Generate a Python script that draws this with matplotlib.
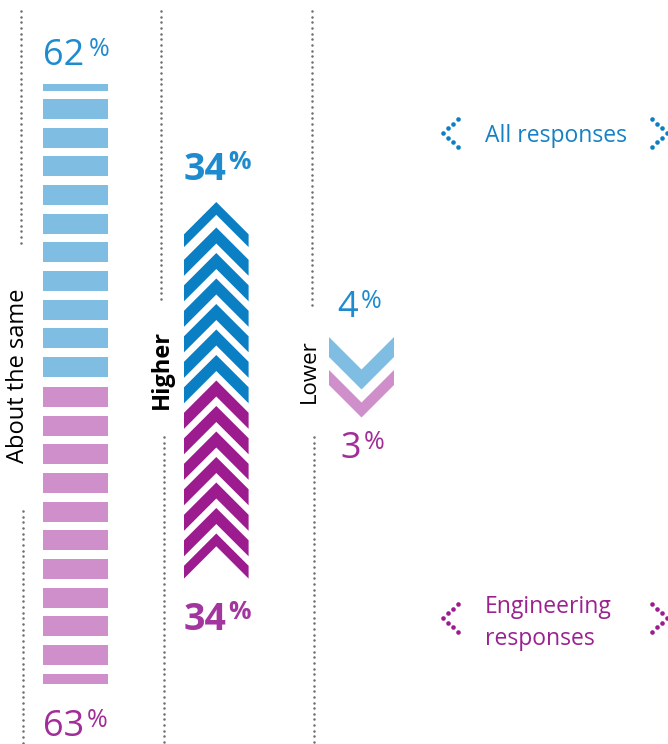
import matplotlib
matplotlib.use("Agg")
import math
import numpy as np
import matplotlib.pyplot as plt
from matplotlib.patches import Polygon

plt.rcParams['font.family'] = ['Open Sans', 'DejaVu Sans']

# Survey shares (%) for the two respondent groups
groups = ["All responses", "Engineering\nresponses"]
about_same = [62, 63]
higher = [34, 34]
lower = [4, 3]
categories = ["About the same", "Higher", "Lower"]

# Colours per group: strong, light, text
strong = ["#0b7fc4", "#9c1c8f"]
light = ["#80bde2", "#cf8fca"]
text_col = ["#1f8bcf", "#a22c98"]
dot_grey = "#6e6e6e"

W, H = 668, 744
fig = plt.figure(figsize=(W / 100, H / 100), dpi=100)
ax = fig.add_axes([0, 0, 1, 1])
ax.set_xlim(0, W)
ax.set_ylim(H, 0)
ax.axis('off')


def to_data(px, py):
    return ax.transData.inverted().transform((px, py))


def pct_label(x, y_base, value, color, size, pct_size, gap, weight='normal'):
    t = ax.text(x, y_base, f"{value}", color=color, fontsize=size,
                fontweight=weight, ha='left', va='baseline')
    fig.canvas.draw()
    bb = t.get_window_extent()
    right, top = to_data(bb.x1, bb.y1)
    ax.text(right + gap, top - 1, "%", color=color, fontsize=pct_size,
            fontweight=weight, ha='left', va='top')


# ---- "About the same": stacked bar segments, 6 % per segment ----
unit = 6.0
slot = 28.65
seg_h = 20.0
bar_x, bar_w = 75.0, 65.0
mid_top, mid_bot = 377.0, 387.0
for g, val in enumerate(about_same):
    n = math.ceil(val / unit)
    for k in range(n):
        frac = min(1.0, (val - k * unit) / unit)
        h = frac * seg_h
        if g == 0:
            bottom_edge = mid_top - k * slot
            ax.bar(bar_x, h, width=bar_w, bottom=bottom_edge - h,
                   color=light[g], linewidth=0)
        else:
            top_edge = mid_bot + k * slot
            ax.bar(bar_x, h, width=bar_w, bottom=top_edge,
                   color=light[g], linewidth=0)

pct_label(43, 65, about_same[0], text_col[0], 26, 18, 4)
pct_label(43, 736, about_same[1], text_col[1], 26, 18, 3)

# ---- "Higher": upward chevrons, 5 % per chevron ----
# blue stack grows up from the middle, purple grows down; the outermost
# chevron of each stack is thinned to the remaining fraction
chev_unit = 5.0
cx, hw = 216.3, 32.3
mid_apex, period, thick = 380.5, 25.5, 16.0


def up_chevron(ya, t, color):
    pts = [(cx - hw, ya + hw), (cx, ya), (cx + hw, ya + hw),
           (cx + hw, ya + hw + t), (cx, ya + t), (cx - hw, ya + hw + t)]
    ax.add_patch(Polygon(pts, closed=True, facecolor=color, edgecolor='none'))


for g, val in enumerate(higher):
    n = math.ceil(val / chev_unit)
    for j in range(n):
        frac = min(1.0, (val - j * chev_unit) / chev_unit)
        if g == 0:
            ya = mid_apex - (j + 1) * period
        else:
            ya = mid_apex + j * period
        up_chevron(ya, frac * thick, strong[g])

pct_label(184, 180, higher[0], text_col[0], 27, 18, 1, weight='bold')
pct_label(184, 630, higher[1], "#a3359f", 27, 18, 1, weight='bold')

# ---- "Lower": downward chevrons, thickness scaled by value ----
lcx, lhw = 361.5, 32.5
y0 = 337.0
px_per_pct = 5.0
for g, val in enumerate(lower):
    t = val * px_per_pct
    pts = [(lcx - lhw, y0), (lcx, y0 + lhw), (lcx + lhw, y0),
           (lcx + lhw, y0 + t), (lcx, y0 + lhw + t), (lcx - lhw, y0 + t)]
    ax.add_patch(Polygon(pts, closed=True, facecolor=light[g],
                         edgecolor='none'))
    y0 += t + 13.0

pct_label(337, 317, lower[0], text_col[0], 26, 18, 3)
pct_label(340, 458, lower[1], text_col[1], 26, 18, 3)

# ---- dotted separators ----
def dotted_v(x, y_start, y_end, step=5.65):
    ys = np.arange(y_start, y_end, step)
    ax.plot(np.full_like(ys, x), ys, linestyle='none', marker='o',
            markersize=1.8, color=dot_grey, markeredgewidth=0)

dotted_v(21, 11, 244)
dotted_v(23, 511, 744)
dotted_v(161, 11, 303)
dotted_v(164, 437, 744)
dotted_v(311.5, 11, 306)
dotted_v(314, 437, 744)

# ---- category labels ----
ax.text(18.5, 376, categories[0], rotation=90, ha='center', va='center',
        fontsize=17, color='black')
ax.text(162, 369, categories[1], rotation=90, ha='center', va='center',
        fontsize=17, fontweight='bold', color='black')
ax.text(309, 371, categories[2], rotation=90, ha='center', va='center',
        fontsize=16, color='black')

# ---- legend with dotted brackets ----
def dotted_bracket(tip_x, tip_y, direction, color):
    arm_dx, arm_dy = 14.5, 14.0
    pts = []
    for i in range(4):
        f = i / 3
        pts.append((tip_x + direction * arm_dx * f, tip_y - arm_dy * f))
        if i:
            pts.append((tip_x + direction * arm_dx * f, tip_y + arm_dy * f))
    xs, ys = zip(*pts)
    ax.plot(xs, ys, linestyle='none', marker='o', markersize=3.3,
            color=color, markeredgewidth=0)

legend_y = [133, 618]
for g, label in enumerate(groups):
    dotted_bracket(443, legend_y[g], 1, strong[g])
    dotted_bracket(666.5, legend_y[g], -1, strong[g])

ax.text(485, 142, groups[0], color="#1580c5", fontsize=16.5,
        ha='left', va='baseline')
ax.text(485, 613, "Engineering", color="#9a2290", fontsize=16.5,
        ha='left', va='baseline')
ax.text(485, 645, "responses", color="#9a2290", fontsize=16.5,
        ha='left', va='baseline')

fig.savefig("out.png", dpi=100)
